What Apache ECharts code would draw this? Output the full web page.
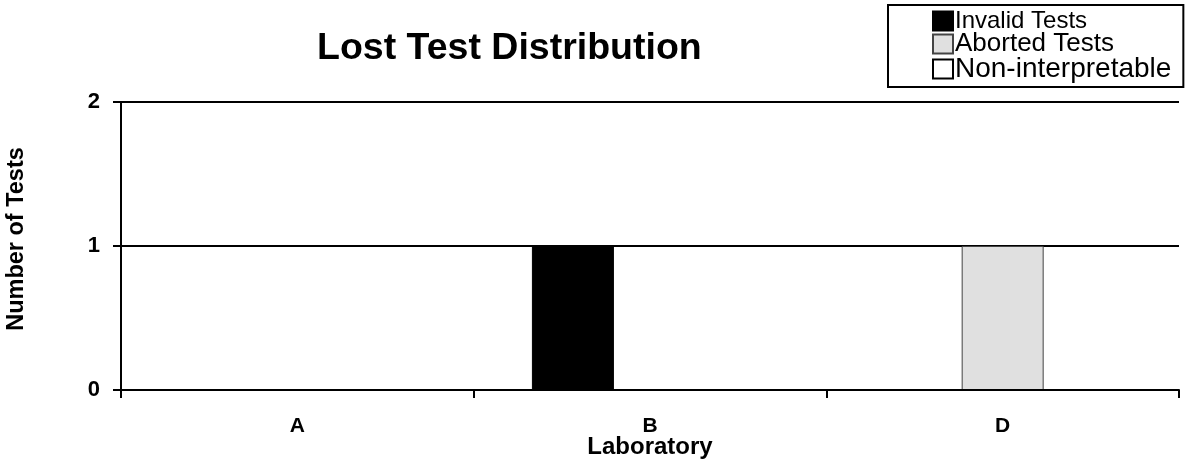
<!DOCTYPE html>
<html>
<head>
<meta charset="utf-8">
<script src="https://cdn.jsdelivr.net/npm/echarts@6/dist/echarts.min.js"></script>
<style>
html,body{margin:0;padding:0;background:#fff;}
#chart{width:1188px;height:464px;}
</style>
</head>
<body>
<div id="chart"></div>
<script>
const categories = ['A', 'B', 'D'];
const invalidTests = [0, 1, 0];
const abortedTests = [0, 0, 1];
const nonInterpretable = [0, 0, 0];
const yTicks = [0, 1, 2];

const chart = echarts.init(document.getElementById('chart'), null, {renderer: 'canvas'});
const font = 'Liberation Sans, Arial, Helvetica, sans-serif';

chart.setOption({
  animation: false,
  backgroundColor: '#fff',
  title: {
    text: 'Lost Test Distribution',
    left: 317,
    top: 30,
    padding: 0,
    textStyle: {fontFamily: font, fontSize: 37.5, fontWeight: 'bold', color: '#000'}
  },
  legend: {
    orient: 'vertical',
    left: 888,
    top: 5,
    padding: [4, 12, 4, 44],
    borderColor: '#000',
    borderWidth: 2,
    itemGap: -2,
    itemWidth: 20,
    itemHeight: 19,
    icon: 'rect',
    textStyle: {fontFamily: font, fontSize: 26, color: '#000', lineHeight: 23, padding: [0,0,0,-3]},
    data: [
      {name: 'Invalid Tests', textStyle: {fontSize: 24}},
      {name: 'Aborted Tests', textStyle: {fontSize: 26}},
      {name: 'Non-interpretable', textStyle: {fontSize: 28}}
    ]
  },
  grid: {left: 121, right: 9, top: 102, bottom: 74, outerBoundsMode: 'none', containLabel: false},
  xAxis: {
    type: 'category',
    data: categories,
    z: 5,
    name: 'Laboratory',
    nameLocation: 'middle',
    nameGap: 45,
    nameMoveOverlap: false,
    nameTextStyle: {fontFamily: font, fontSize: 24, fontWeight: 'bold', color: '#000'},
    axisLine: {lineStyle: {color: '#000', width: 2}},
    axisTick: {show: true, length: 8, alignWithLabel: false, lineStyle: {color: '#000', width: 2}},
    axisLabel: {fontFamily: font, fontSize: 21, fontWeight: 'bold', color: '#000', margin: 26},
    splitLine: {show: false}
  },
  yAxis: {
    type: 'value',
    min: yTicks[0],
    max: yTicks[yTicks.length - 1],
    interval: 1,
    name: 'Number of Tests',
    nameLocation: 'middle',
    nameRotate: 90,
    nameGap: 92,
    nameMoveOverlap: false,
    nameTextStyle: {fontFamily: font, fontSize: 23.5, fontWeight: 'bold', color: '#000', padding: [0, 0, 0, 14]},
    axisLine: {show: true, lineStyle: {color: '#000', width: 2}},
    axisTick: {show: true, length: 8, lineStyle: {color: '#000', width: 2}},
    axisLabel: {fontFamily: font, fontSize: 22, fontWeight: 'bold', color: '#000', margin: 21},
    splitLine: {show: true, lineStyle: {color: '#000', width: 2}}
  },
  series: [
    {
      name: 'Invalid Tests',
      type: 'bar',
      data: invalidTests,
      barWidth: 82,
      barGap: '-6%',
      itemStyle: {color: '#000', borderColor: '#000', borderWidth: 1}
    },
    {
      name: 'Aborted Tests',
      type: 'bar',
      data: abortedTests,
      barWidth: 82,
      barGap: '-6%',
      itemStyle: {color: '#e0e0e0', borderColor: '#444', borderWidth: 1}
    },
    {
      name: 'Non-interpretable',
      type: 'bar',
      data: nonInterpretable,
      barWidth: 82,
      barGap: '-6%',
      itemStyle: {color: '#fff', borderColor: '#000', borderWidth: 2}
    }
  ]
});
</script>
</body>
</html>
